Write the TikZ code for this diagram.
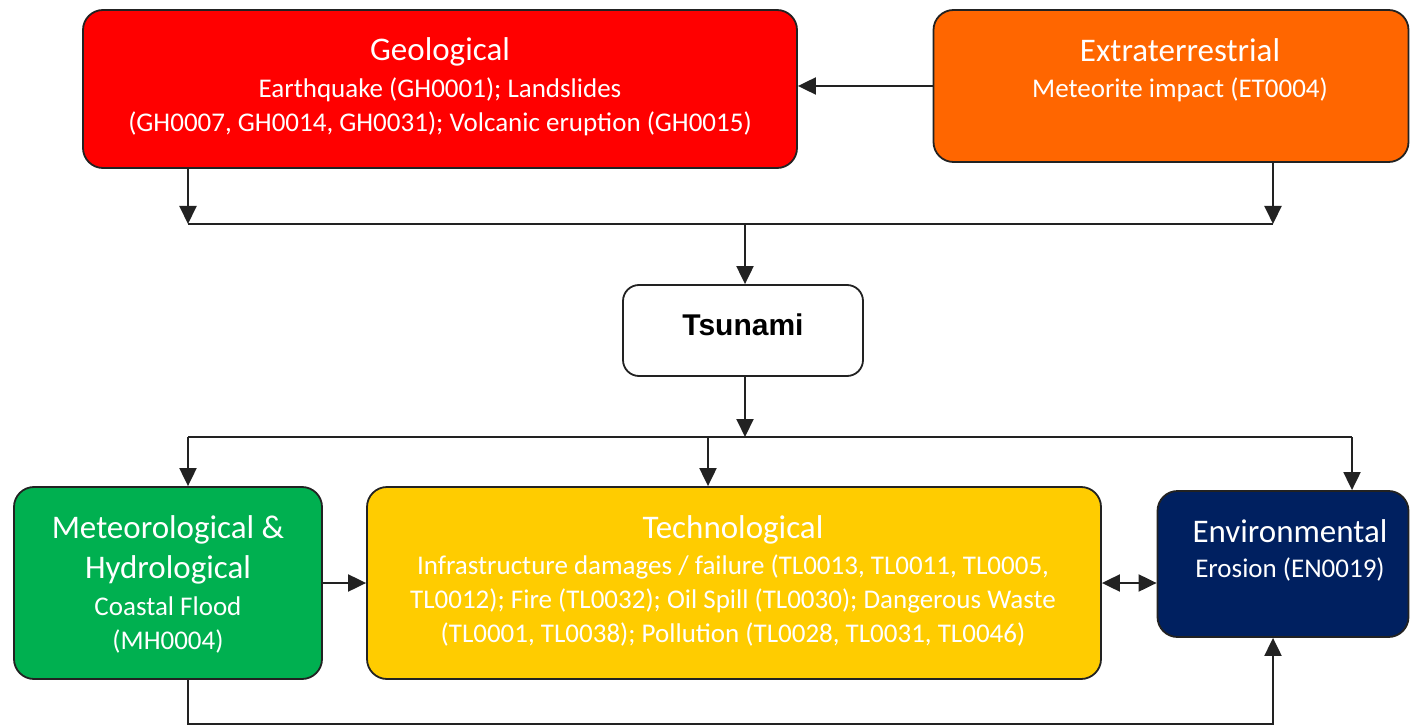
\documentclass[tikz,border=0pt]{standalone}
\usepackage{fontspec}
\setmainfont{Carlito}
\newfontfamily\arialfont{Liberation Sans}
\usetikzlibrary{arrows.meta}
\definecolor{cgeo}{HTML}{FF0000}
\definecolor{cext}{HTML}{FF6600}
\definecolor{cmet}{HTML}{00B050}
\definecolor{ctech}{HTML}{FFCC00}
\definecolor{cenv}{HTML}{002060}
\definecolor{cline}{HTML}{222222}
\tikzset{
  box/.style={draw=cline, line width=1.8pt, rounded corners=20pt, minimum width=#1},
  ttl/.style={anchor=base, text=white, font=\fontsize{33}{40}\selectfont, inner sep=0pt},
  sub/.style={anchor=base, text=white, font=\fontsize{27}{35}\selectfont, inner sep=0pt},
  conn/.style={draw=cline, line width=2pt},
  arr/.style={conn, -{Triangle[length=18pt,width=17pt]}},
  darr/.style={conn, {Triangle[length=18pt,width=17pt]}-{Triangle[length=18pt,width=17pt]}}
}
\begin{document}
\begin{tikzpicture}[x=1pt,y=-1pt]
\useasboundingbox (0,0) rectangle (1410,727);
% boxes
\node[box=714pt, fill=cgeo, minimum height=158pt] (geo) at (440,89) {};
\node[box=475pt, fill=cext, minimum height=152pt] (ext) at (1171,86) {};
\node[box=240pt, fill=white, minimum height=91pt, rounded corners=16pt] (tsu) at (743,330.5) {};
\node[box=308pt, fill=cmet, minimum height=192pt] (met) at (168,583) {};
\node[box=734pt, fill=ctech, minimum height=192pt] (tech) at (734,583) {};
\node[box=251pt, fill=cenv, minimum height=146pt] (env) at (1283,564) {};
% texts
\node[ttl] (geo-t) at (440,61) {Geological};
\node[sub] (geo-s1) at (440,98) {Earthquake (GH0001); Landslides};
\node[sub] (geo-s2) at (440,132) {(GH0007, GH0014, GH0031); Volcanic eruption (GH0015)};
\node[ttl] (ext-t) at (1180,62) {Extraterrestrial};
\node[sub] (ext-s1) at (1180,98) {Meteorite impact (ET0004)};
\node[anchor=base, inner sep=0pt, font=\arialfont\bfseries\fontsize{30}{34}\selectfont] (tsu-t) at (743,335) {Tsunami};
\node[ttl] (met-t1) at (168,538) {Meteorological \&};
\node[ttl] (met-t2) at (168,578) {Hydrological};
\node[sub] (met-s1) at (168,615) {Coastal Flood};
\node[sub] (met-s2) at (168,649) {(MH0004)};
\node[ttl] (tech-t) at (733,538) {Technological};
\node[sub] (tech-s1) at (733,574) {Infrastructure damages / failure (TL0013, TL0011, TL0005,};
\node[sub] (tech-s2) at (733,608) {TL0012); Fire (TL0032); Oil Spill (TL0030); Dangerous Waste};
\node[sub] (tech-s3) at (733,642) {(TL0001, TL0038); Pollution (TL0028, TL0031, TL0046)};
\node[ttl] (env-t) at (1290,542) {Environmental};
\node[sub] (env-s1) at (1290,577) {Erosion (EN0019)};
% junctions
\coordinate (j1) at (188,224);
\coordinate (j2) at (1273,224);
\coordinate (j3) at (745,224);
\coordinate (k1) at (188,437);
\coordinate (k2) at (708,437);
\coordinate (k3) at (745,437);
\coordinate (k4) at (1352,437);
\coordinate (b1) at (188,724);
\coordinate (b2) at (1273,724);
% connectors
\draw[arr] (ext.west) -- (ext.west -| geo.east);
\draw[arr] (j1 |- geo.south) -- (j1);
\draw[arr] (j2 |- ext.south) -- (j2);
\draw[conn] (j1) -- (j2);
\draw[arr] (j3) -- (j3 |- tsu.north);
\draw[arr] (j3 |- tsu.south) -- (k3);
\draw[conn] (k1) -- (k4);
\draw[arr] (k1) -- (k1 |- met.north);
\draw[arr] (k2) -- (k2 |- tech.north);
\draw[arr] (k4) -- (k4 |- env.north);
\draw[arr] (met.east) -- (tech.west);
\draw[darr] (tech.east) -- (tech.east -| env.west);
\draw[arr] (b1 |- met.south) -- (b1) -- (b2) -- (b2 |- env.south);
\end{tikzpicture}
\end{document}
